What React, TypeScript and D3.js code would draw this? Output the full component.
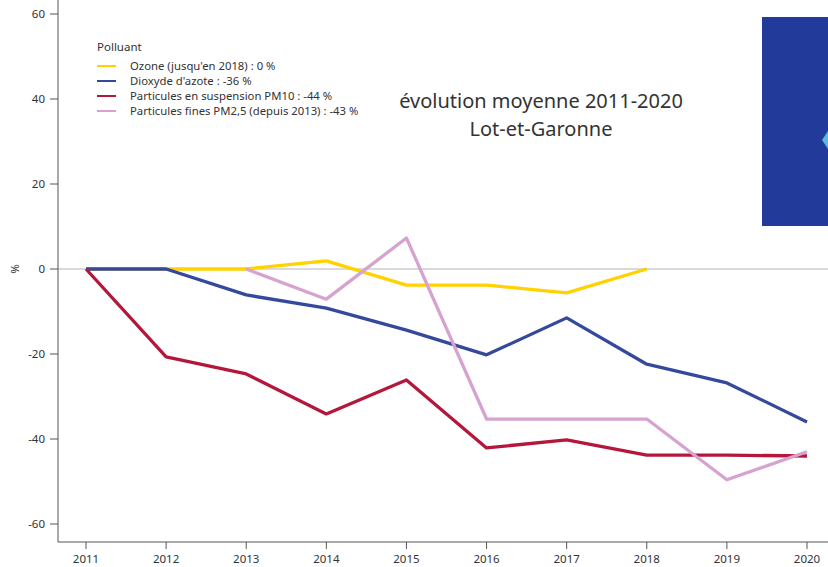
import React from "react";
import * as d3 from "d3";

const years = [2011, 2012, 2013, 2014, 2015, 2016, 2017, 2018, 2019, 2020];
const ozone: (number | null)[] = [0, 0, 0, 1.9, -3.8, -3.8, -5.6, 0, null, null];
const no2: (number | null)[] = [0, 0, -6.1, -9.2, -14.4, -20.2, -11.5, -22.4, -26.8, -36];
const pm10: (number | null)[] = [0, -20.7, -24.7, -34.1, -26.1, -42.1, -40.2, -43.8, -43.8, -44];
const pm25: (number | null)[] = [null, null, 0, -7.1, 7.3, -35.3, -35.3, -35.3, -49.6, -43];
const yTicks = [-60, -40, -20, 0, 20, 40, 60];
const legendLabels = [
  "Ozone (jusqu'en 2018) : 0 %",
  "Dioxyde d'azote : -36 %",
  "Particules en suspension PM10 : -44 %",
  "Particules fines PM2,5 (depuis 2013) : -43 %",
];
const seriesColors = ["#ffd200", "#34499c", "#b5173c", "#d6a3d0"];
const titleLines = ["évolution moyenne 2011-2020", "Lot-et-Garonne"];

const W = 828;
const H = 567;
const FONT = "'Noto Sans', 'Open Sans', sans-serif";

export default function App() {
  const x = d3.scaleLinear().domain([2011, 2020]).range([86, 807]);
  const y = d3.scaleLinear().domain([-60, 60]).range([524, 14]);
  const series = [ozone, no2, pm10, pm25];
  const line = d3
    .line<number | null>()
    .defined((d) => d !== null)
    .x((_, i) => x(years[i]))
    .y((d) => y(d as number));

  return (
    <svg
      width={W}
      height={H}
      style={{ position: "absolute", left: 0, top: 0, background: "#fff" }}
      fontFamily={FONT}
    >
      <rect x={0} y={0} width={W} height={H} fill="#fff" />
      {/* zero line */}
      <line x1={58} x2={W} y1={y(0)} y2={y(0)} stroke="#d9d9d9" strokeWidth={2} />
      {/* blue image block */}
      <rect x={762} y={17} width={W - 762} height={209} fill="#223a99" />
      <path d="M828,131 L822,140 L828,149 Z" fill="#5cb8d8" />
      {/* series */}
      {series.map((s, i) => (
        <path
          key={i}
          d={line(s) || ""}
          fill="none"
          stroke={seriesColors[i]}
          strokeWidth={3.3}
          strokeLinejoin="round"
        />
      ))}
      {/* y axis */}
      <line x1={58} x2={58} y1={0} y2={542} stroke="#555" strokeWidth={1} />
      {yTicks.map((t) => (
        <g key={t}>
          <line x1={50} x2={58} y1={y(t)} y2={y(t)} stroke="#555" />
          <text x={45} y={y(t)} dy="0.35em" textAnchor="end" fontSize={11.5} fill="#333">
            {t}
          </text>
        </g>
      ))}
      <text
        transform={`translate(15,${y(0)}) rotate(-90)`}
        textAnchor="middle"
        dy="0.35em"
        fontSize={11.5}
        fill="#333"
      >
        %
      </text>
      {/* x axis */}
      <line x1={58} x2={W} y1={542} y2={542} stroke="#555" />
      {years.map((yr) => (
        <g key={yr}>
          <line x1={x(yr)} x2={x(yr)} y1={542} y2={549} stroke="#555" />
          <text x={x(yr)} y={559} dy="0.35em" textAnchor="middle" fontSize={11.5} fill="#333">
            {yr}
          </text>
        </g>
      ))}
      {/* legend */}
      <text x={97} y={47} dy="0.35em" fontSize={11.5} fill="#333">
        Polluant
      </text>
      {legendLabels.map((lab, i) => (
        <g key={lab}>
          <line
            x1={97}
            x2={116}
            y1={66 + i * 15}
            y2={66 + i * 15}
            stroke={seriesColors[i]}
            strokeWidth={2}
          />
          <text x={130} y={66 + i * 15} dy="0.35em" fontSize={11.3} fill="#333">
            {lab}
          </text>
        </g>
      ))}
      {/* title */}
      {titleLines.map((t, i) => (
        <text
          key={t}
          x={541}
          y={101 + i * 28}
          dy="0.35em"
          textAnchor="middle"
          fontSize={20}
          fill="#333"
        >
          {t}
        </text>
      ))}
    </svg>
  );
}
